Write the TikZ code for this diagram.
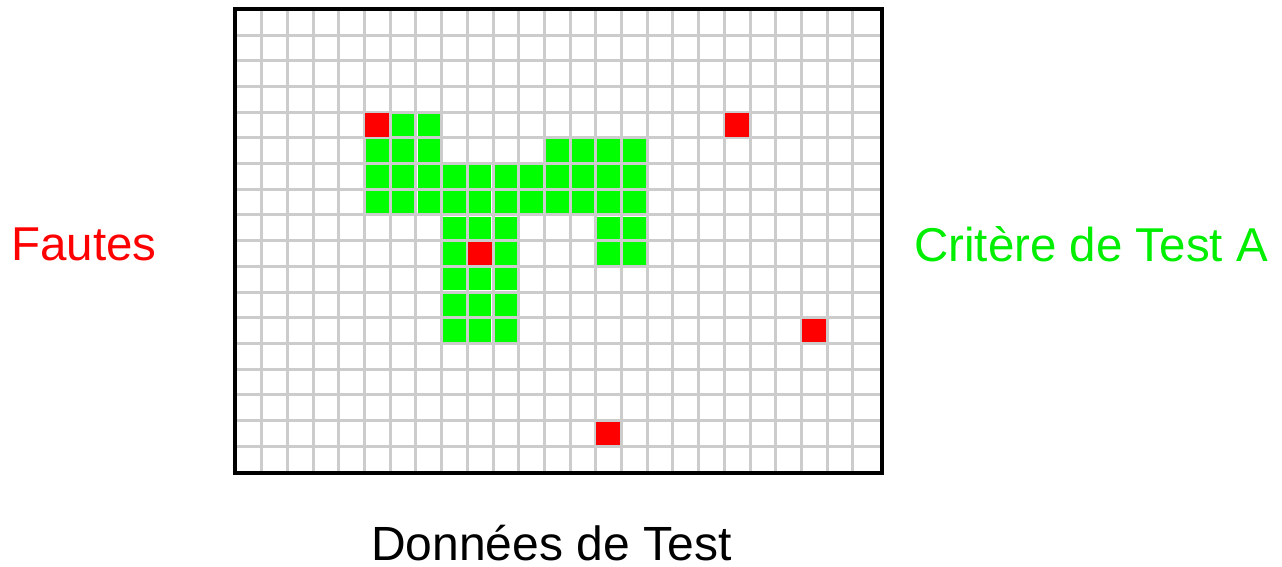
\documentclass[tikz,border=0pt]{standalone}
\usepackage{fontspec}
\setmainfont{Liberation Sans}
\definecolor{gridgray}{RGB}{204,204,204}
\definecolor{cellred}{RGB}{255,0,0}
\definecolor{cellgreen}{RGB}{0,255,0}
\definecolor{textgreen}{RGB}{0,238,0}
\begin{document}
\begin{tikzpicture}[x=1pt,y=-1pt,
  lbl/.style={font=\fontsize{47.5}{57}\selectfont, inner sep=0pt, anchor=base west, text depth=0pt},
  gridline/.style={gridgray,line width=3pt},
  greencell/.style={fill=cellgreen},
  redcell/.style={fill=cellred},
  frame/.style={draw=black,line width=4pt}]
\useasboundingbox (0,0) rectangle (1282,566);
\fill[white] (0,0) rectangle (1282,566);
% grid lines
\foreach \k in {1,...,24}
  \draw[gridline] ({236+\k*25.7},9.3) -- ({236+\k*25.7},472.7);
\foreach \k in {1,...,17}
  \draw[gridline] (236,{9.3+\k*25.7}) -- (880,{9.3+\k*25.7});
% green cells (column/row)
\foreach \c/\r in {6/4,7/4,
  5/5,6/5,7/5,12/5,13/5,14/5,15/5,
  5/6,6/6,7/6,8/6,9/6,10/6,11/6,12/6,13/6,14/6,15/6,
  5/7,6/7,7/7,8/7,9/7,10/7,11/7,12/7,13/7,14/7,15/7,
  8/8,9/8,10/8,14/8,15/8,
  8/9,10/9,14/9,15/9,
  8/10,9/10,10/10,
  8/11,9/11,10/11,
  8/12,9/12,10/12}
  \path[greencell] ({236+\c*25.7+1.6},{9.3+\r*25.7+1.6}) rectangle ++(22.5,22.5);
% red cells
\foreach \c/\r in {5/4,19/4,9/9,22/12,14/16}
  \path[redcell] ({236+\c*25.7+0.6},{9.3+\r*25.7+1.0}) rectangle ++(23.8,23.4);
% frame
\draw[frame] (234.7,8.5) rectangle (882,472.5);
% labels
\node[lbl,text=cellred] (fautes) at (11,260) {Fautes};
\node[lbl,text=textgreen] (critere) at (914,261) {Critère de Test A};
\node[lbl,text=black,font=\fontsize{48}{57}\selectfont] (donnees) at (371,560) {Données de Test};
\end{tikzpicture}
\end{document}
